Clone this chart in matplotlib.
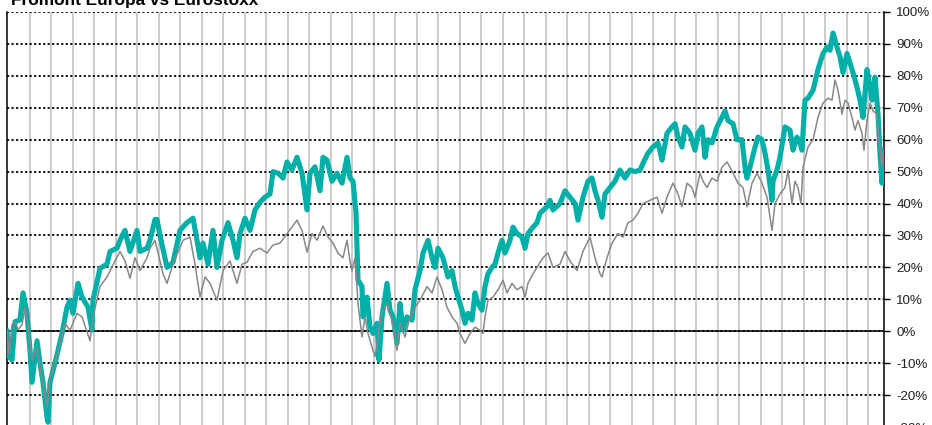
import numpy as np
import matplotlib
matplotlib.use("Agg")
from matplotlib import pyplot as plt
from matplotlib.ticker import FuncFormatter

plt.rcParams["font.family"] = ["Liberation Sans", "DejaVu Sans"]

fromont_t = [0, 2, 5, 8, 13, 16, 20, 23, 25, 30, 33, 36, 40, 41, 43, 48, 51, 55, 60,
             63, 66, 71, 75, 81, 85, 86, 93, 100, 103, 110, 113, 118, 123, 130, 133, 140,
             143, 148, 150, 153, 160, 166, 173, 180, 186, 190, 193, 196, 201, 206, 210,
             215, 221, 226, 230, 233, 238, 243, 248, 253, 258, 263, 266, 271, 276, 280,
             285, 290, 295, 300, 303, 308, 313, 316, 320, 325, 330, 335, 340, 343, 346,
             349, 351, 355, 356, 360, 363, 366, 370, 372, 375, 380, 383, 386, 390, 393,
             396, 400, 405, 408, 413, 416, 421, 425, 428, 431, 436, 441, 445, 448, 451,
             455, 458, 461, 465, 468, 471, 475, 478, 481, 485, 488, 491, 495, 498, 503,
             506, 510, 515, 518, 521, 526, 530, 533, 540, 543, 546, 553, 558, 563, 568,
             571, 576, 581, 585, 588, 591, 595, 598, 603, 608, 613, 618, 623, 628, 633,
             636, 641, 646, 651, 655, 660, 665, 668, 671, 675, 678, 683, 688, 691, 695,
             698, 701, 705, 710, 715, 718, 721, 726, 730, 735, 738, 740, 743, 748, 751,
             755, 758, 761, 765, 766, 770, 773, 778, 783, 786, 790, 793, 795, 798, 801,
             806, 811, 816, 820, 823, 826, 830, 833, 836, 840, 843, 846, 850, 853, 856,
             860, 863, 865, 868, 871, 873, 875, 876]
fromont = [0, -8, -9, 3, 3.5, 12, 5.6, -6, -16, -3, -10, -16, -27, -28.5, -16, -10, -6,
           -0.7, 7.5, 9.7, 5.6, 15, 10.7, 7.5, 0.3, 9.7, 19.7, 21, 25, 26, 28.5, 31.6, 25,
           31.6, 25, 26, 28.5, 35, 35, 30, 20, 21.6, 31.6, 34, 35.4, 28.5, 23, 27.6, 21,
           31.6, 20, 28.5, 34, 28.5, 23, 30.6, 35.4, 31.6, 38, 40.4, 42, 43, 50, 49.5, 48,
           53, 50.5, 54.5, 49.5, 38, 49.5, 51.5, 44, 54.5, 53.6, 47, 49.5, 46.4, 54.5, 48,
           47, 37, 16, 14, 4.5, 10.7, 1.3, -0.7, 2.5, -9, 4.5, 15, 6.6, 4.5, -3.8, 8.7,
           0.3, 4.5, 3.5, 13, 19, 24.5, 28.5, 23, 20, 26, 23, 17, 19, 14, 10.7, 6.6, 2.5,
           5.6, 3.5, 12, 8.7, 6.6, 14, 18, 20, 21, 24.5, 28.5, 24.5, 28.5, 32.6, 30.6,
           29.5, 26, 30.6, 32.6, 34, 37, 39, 41, 38, 40, 44, 42, 40, 34.8, 42, 47, 48, 44,
           41, 35.7, 43, 45, 47, 50.5, 48, 50.5, 50, 50.5, 52.6, 55.8, 57.7, 59, 53.6, 62,
           64, 65, 60.8, 57.7, 64, 62, 56.7, 62, 64, 54.5, 60, 59, 64, 67, 69, 66, 65, 60,
           60, 51.4, 48, 51.4, 57.7, 60.8, 60, 55.8, 50.5, 41, 47, 50.5, 54.5, 64, 63, 56.7,
           60.8, 59, 56.7, 72.4, 73, 75.5, 82, 87, 89, 88, 93.4, 89, 86, 81, 87, 84, 81,
           76.5, 72.4, 67, 82, 76.5, 72.4, 79.6, 68, 55.8, 46.4, 56.7]

eurostoxx_t = [0, 2, 5, 8, 11, 15, 18, 21, 25, 30, 35, 40, 43, 48, 53, 58, 63, 70, 75,
               83, 86, 93, 100, 108, 113, 118, 123, 128, 133, 140, 143, 148, 153, 156, 160,
               166, 176, 183, 188, 193, 198, 203, 210, 216, 223, 230, 235, 240, 246, 253,
               260, 266, 273, 280, 285, 290, 295, 300, 305, 310, 316, 321, 326, 331, 336,
               340, 343, 345, 348, 351, 355, 358, 361, 365, 368, 371, 375, 380, 385, 390,
               393, 398, 403, 408, 413, 420, 425, 430, 435, 440, 445, 450, 453, 458, 463,
               468, 473, 476, 478, 481, 486, 491, 496, 500, 505, 510, 515, 518, 521, 526,
               530, 536, 541, 546, 553, 558, 563, 570, 576, 583, 588, 593, 595, 600, 605,
               611, 616, 621, 626, 631, 636, 643, 650, 655, 660, 666, 671, 675, 680, 685,
               688, 693, 696, 700, 705, 710, 715, 720, 723, 726, 731, 736, 740, 745, 750,
               755, 760, 763, 765, 768, 773, 778, 781, 785, 788, 791, 794, 796, 801, 806,
               811, 816, 821, 825, 828, 831, 835, 838, 841, 845, 848, 851, 855, 857, 860,
               863, 866, 870, 872, 875, 876]
eurostoxx = [0, -7, 2, 3, 0.5, 2, 7.5, 2, -9, -5, -15, -24, -15, -10, -4, 2.5, 0.3, 5.6,
             4.5, -3, 4.5, 14, 17, 22, 25, 22, 16.6, 23, 19, 23, 26, 28.5, 22, 18, 15, 21,
             28.5, 29.5, 21, 10.7, 17, 15, 9.7, 19, 22, 15, 21, 21.6, 25, 26, 24.5, 27,
             27.6, 30.6, 32.6, 34.8, 31.6, 24.8, 30.6, 28.5, 33, 29.5, 27.6, 24.5, 23, 28.5,
             22, 19, 23, 8.7, -1.8, 4.5, -0.7, -5, -8, -1.8, 5.6, 8.7, 3.5, -6, 2.5, -1.8,
             4.5, 7.5, 9.7, 14, 12, 17, 13, 7.5, 4.5, 2.5, -0.7, -3.8, -0.7, 1.3, 0.3, -0.7,
             4.5, 9.7, 10.7, 13, 16, 12, 15, 13, 14, 10.7, 15, 18, 20, 23, 24.5, 20, 21, 25,
             22, 19, 25, 29.5, 23, 18, 17, 23, 27.6, 30.6, 29.5, 34, 34.8, 37, 40, 41, 42,
             37, 42, 46.4, 43, 39, 46.4, 45, 42, 49.5, 47, 45, 48, 47, 51.4, 53, 51.4, 49.5,
             46.4, 45, 39, 46.4, 49.5, 46.4, 42, 35.7, 31.6, 40, 43, 45, 50.5, 40, 47, 45,
             40, 51.4, 57.7, 60, 67, 71.5, 73, 72.4, 78.7, 75.5, 68, 72.4, 71.5, 67, 63, 66,
             62, 56.7, 66, 71.5, 69, 68, 60, 51.4, 55.8]

y_ticks = list(range(-30, 101, 10))
x_grid = 23 + 21.49 * np.arange(40)

fig = plt.figure(figsize=(9.32, 4.25), dpi=100)
ax = fig.add_axes([7 / 932, -2 / 425, 877 / 932, 415 / 425])

ax.plot(fromont_t, fromont, color="#00b0a8", lw=3.7, solid_joinstyle="round", zorder=3)
ax.plot(eurostoxx_t, eurostoxx, color="#888888", lw=1.1, zorder=4)

ax.set_xlim(0, 877)
ax.set_ylim(-30, 100)

# vertical light grey grid, horizontal dotted grid
ax.set_xticks(x_grid)
ax.tick_params(axis="x", length=0, labelbottom=False)
ax.xaxis.grid(True, color="#c4c4c4", lw=1.2)
ax.set_yticks(y_ticks)
ax.yaxis.grid(True, color="black", lw=1.3, linestyle=(0, (1.2, 1.3)))
ax.axhline(0, color="black", lw=1.1, zorder=2)
ax.set_axisbelow(True)

ax.yaxis.tick_right()
ax.yaxis.set_major_formatter(FuncFormatter(lambda v, p: f"{v:.0f}%"))
ax.tick_params(axis="y", direction="out", length=4.3, width=1, pad=4.5,
               labelsize=9.6, labelcolor="#222222")

ax.spines["top"].set_visible(False)
ax.spines["bottom"].set_visible(False)
ax.spines["left"].set_linewidth(1.1)
ax.spines["right"].set_linewidth(1.1)

fig.text(11 / 932, 1 - 4.5 / 425, "Fromont Europa vs Eurostoxx", fontsize=12.4,
         fontweight="bold", va="baseline", ha="left")

plt.savefig("out.png", dpi=100)
